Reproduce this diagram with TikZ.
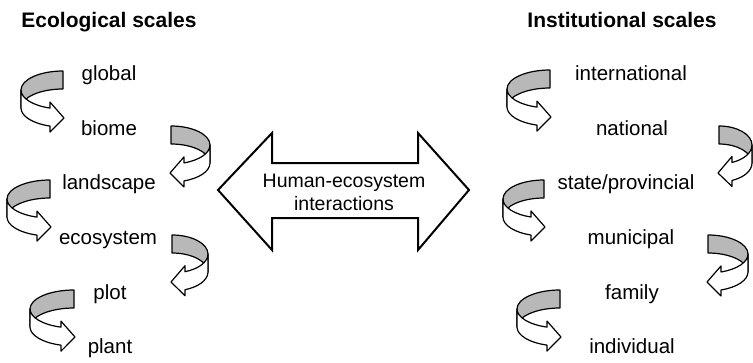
\documentclass[tikz,border=0pt]{standalone}
\usepackage{fontspec}
\setmainfont{Liberation Sans}
\begin{document}
\begin{tikzpicture}[x=1pt, y=-1pt,
  lbl/.style={anchor=base, font=\fontsize{20.5}{23}\selectfont},
  title/.style={anchor=base, font=\bfseries\fontsize{21}{25}\selectfont},
  back/.style={draw, line width=1.2pt, fill=black!28, line join=round},
  front/.style={draw, line width=1.2pt, fill=white, line join=round}]
\useasboundingbox (0,0) rectangle (753,362);

% Curled ribbon arrow: #1,#2 = top of grey end, #3 = 1 (curls left) or -1 (curls right), #4 = width
\def\curl#1#2#3#4{
  \pgfmathsetmacro\tone{acos(-13/#4)}
  \pgfmathsetmacro\ybot{37+19*sin(\tone)+6}
  \begin{scope}[shift={(#1,#2)}, xscale=#3]
    \path[back] (0,0) arc[start angle=-90, end angle=-180, x radius=#4, y radius=19]
      -- ++(0,18) arc[start angle=180, end angle=270, x radius=#4, y radius=19] -- cycle;
    \path[front] (-#4,19) arc[start angle=180, end angle=\tone, x radius=#4, y radius=19]
      -- ++(0,-6) -- (1,47) -- (-13,\ybot) -- ++(0,-6)
      arc[start angle=\tone, end angle=180, x radius=#4, y radius=19] -- cycle;
  \end{scope}
}

% Column titles
\node[title] (eco) at (109,27) {Ecological scales};
\node[title] (inst) at (622,27) {Institutional scales};

% Ecological scales
\node[lbl] (global) at (109,80) {global};
\node[lbl] (biome) at (109,135) {biome};
\node[lbl] (landscape) at (109,189) {landscape};
\node[lbl] (ecosystem) at (108,244) {ecosystem};
\node[lbl] (plot) at (110,299) {plot};
\node[lbl] (plant) at (110,353) {plant};
\curl{63}{71}{1}{42}
\curl{171}{126}{-1}{39}
\curl{50}{180}{1}{43}
\curl{172}{235}{-1}{36}
\curl{74}{290}{1}{44}

% Institutional scales
\node[lbl] (international) at (631,80) {international};
\node[lbl] (national) at (632,135) {national};
\node[lbl] (state) at (626,189) {state/provincial};
\node[lbl] (municipal) at (631,244) {municipal};
\node[lbl] (family) at (632,299) {family};
\node[lbl] (individual) at (632,353) {individual};
\curl{550}{70}{1}{43}
\curl{719}{126}{-1}{33}
\curl{544}{180}{1}{41}
\curl{708}{235}{-1}{40}
\curl{560}{290}{1}{43}

% Double arrow in the middle
\draw[line width=2pt, line join=miter] (218,190) -- (272,133) -- (272,163) -- (418,163)
  -- (418,133) -- (469,190) -- (418,250) -- (418,218) -- (272,218) -- (272,250) -- cycle;
\node[lbl, anchor=center, align=center, font=\fontsize{19.5}{23}\selectfont] (hei) at (344,192) {Human-ecosystem\\interactions};
\end{tikzpicture}
\end{document}
